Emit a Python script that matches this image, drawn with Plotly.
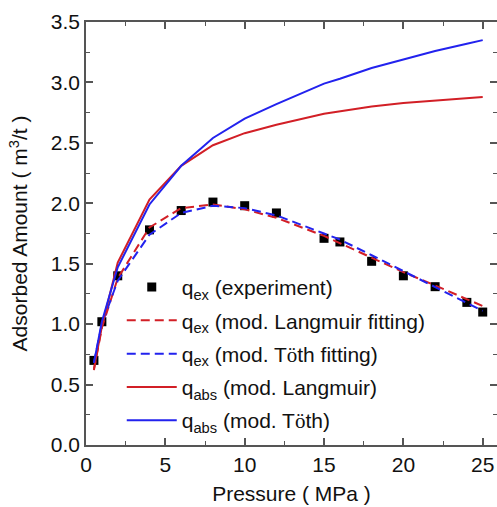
import plotly.graph_objects as go

pressure = [0.5, 1, 2, 4, 6, 8, 10, 12, 15, 16, 18, 20, 22, 24, 25]
q_ex_exp = [0.70, 1.02, 1.40, 1.78, 1.94, 2.01, 1.98, 1.92, 1.71, 1.68, 1.52, 1.40, 1.31, 1.18, 1.10]
q_ex_lang = [0.62, 0.97, 1.38, 1.80, 1.96, 1.99, 1.95, 1.88, 1.73, 1.67, 1.55, 1.43, 1.32, 1.21, 1.15]
q_ex_toth = [0.68, 1.00, 1.36, 1.74, 1.92, 1.98, 1.96, 1.90, 1.75, 1.70, 1.57, 1.44, 1.31, 1.18, 1.11]
q_abs_lang = [0.63, 0.98, 1.51, 2.03, 2.31, 2.48, 2.58, 2.65, 2.74, 2.76, 2.80, 2.83, 2.85, 2.87, 2.88]
q_abs_toth = [0.68, 1.02, 1.47, 1.99, 2.31, 2.54, 2.70, 2.82, 2.99, 3.03, 3.12, 3.19, 3.26, 3.32, 3.35]

RED = "#d21f26"
BLUE = "#2222ee"
OE = '<span style="font-family:Liberation Serif">ö</span>'
DASH = "9px,5px"

fig = go.Figure()
fig.add_trace(go.Scatter(x=pressure, y=q_ex_exp, mode="markers",
                         marker=dict(symbol="square", size=9, color="black"),
                         name="q<sub>ex</sub> (experiment)", legendgroup="a"))
fig.add_trace(go.Scatter(x=pressure, y=q_ex_lang, mode="lines",
                         line=dict(color=RED, width=2, dash=DASH),
                         name="q<sub>ex</sub> (mod. Langmuir fitting)", legendgroup="b"))
fig.add_trace(go.Scatter(x=pressure, y=q_ex_toth, mode="lines",
                         line=dict(color=BLUE, width=2, dash=DASH),
                         name="q<sub>ex</sub> (mod. T" + OE + "th fitting)", legendgroup="c"))
fig.add_trace(go.Scatter(x=pressure, y=q_abs_lang, mode="lines",
                         line=dict(color=RED, width=2),
                         name="q<sub>abs</sub> (mod. Langmuir)", legendgroup="d"))
fig.add_trace(go.Scatter(x=pressure, y=q_abs_toth, mode="lines",
                         line=dict(color=BLUE, width=2),
                         name="q<sub>abs</sub> (mod. T" + OE + "th)", legendgroup="e"))

axis_common = dict(
    showline=True, linecolor="#555555", linewidth=1.5, mirror="ticks",
    ticks="inside", ticklen=7, tickwidth=1.5, tickcolor="#555555",
    showgrid=False, zeroline=False, automargin=False,
    tickfont=dict(family="Liberation Sans, Arial", size=21, color="#111111"),
)

fig.update_layout(
    width=497, height=507,
    margin=dict(l=86, r=0, t=22, b=62),
    paper_bgcolor="white", plot_bgcolor="white",
    font=dict(family="Liberation Sans, Arial", size=21, color="#111111"),
    xaxis=dict(range=[0, 25.9], dtick=5, tick0=0,
               minor=dict(dtick=2.5, ticks="inside", ticklen=4, tickcolor="#555555", tickwidth=1.2),
               title=dict(text="Pressure ( MPa )", font=dict(size=21), standoff=11),
               **axis_common),
    yaxis=dict(range=[0, 3.5], dtick=0.5, tick0=0, tickformat=".1f",
               minor=dict(dtick=0.25, ticks="inside", ticklen=4, tickcolor="#555555", tickwidth=1.2),
               title=dict(text="Adsorbed Amount ( m<sup>3</sup>/t )", font=dict(size=21), standoff=17),
               **axis_common),
    legend=dict(x=0.087, y=0.421, xanchor="left", yanchor="top",
                bgcolor="rgba(0,0,0,0)", font=dict(size=21),
                itemwidth=50, tracegroupgap=3),
    showlegend=True,
)

fig.write_html("out.html",
               config={"displayModeBar": False},
               post_script="document.body.style.margin='0';document.body.style.overflow='hidden';")
